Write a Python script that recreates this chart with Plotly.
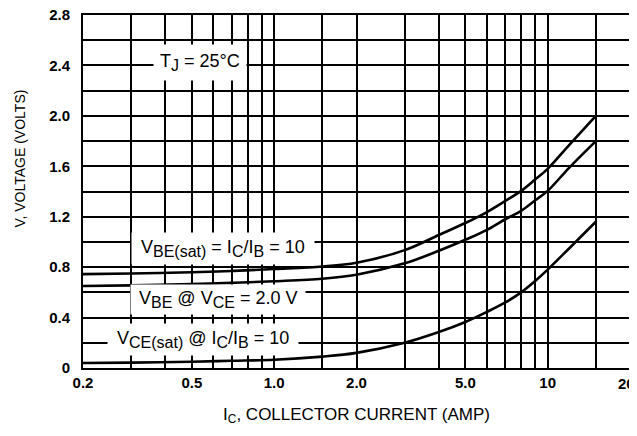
import math
import plotly.graph_objects as go

# ---- data ----
ic_amp = [0.2, 0.3, 0.5, 0.7, 1.0, 1.5, 2.0, 3.0, 4.0, 5.0, 6.0, 7.0, 8.0, 9.0, 10.0, 12.0, 15.0]
vbe_sat = [0.745, 0.75, 0.76, 0.77, 0.785, 0.805, 0.835, 0.935, 1.055, 1.15, 1.237, 1.325, 1.405, 1.495, 1.58, 1.77, 2.00]
vbe_on = [0.65, 0.655, 0.665, 0.675, 0.688, 0.708, 0.74, 0.83, 0.93, 1.017, 1.096, 1.18, 1.247, 1.33, 1.405, 1.59, 1.80]
vce_sat = [0.04, 0.043, 0.05, 0.057, 0.065, 0.09, 0.12, 0.20, 0.285, 0.365, 0.445, 0.52, 0.60, 0.69, 0.78, 0.95, 1.16]

NB = "\u00a0"
x_grid = [0.2, 0.3, 0.4, 0.5, 0.6, 0.7, 0.8, 0.9, 1.0, 1.5, 2.0, 3.0, 4.0, 5.0, 6.0, 7.0, 8.0, 9.0, 10.0, 15.0, 20.0]
x_labels = ["0.2", "", "", "0.5", "", "", "", "", "1.0", "", "2.0", "", "", "5.0", "", "", "", "", "10", "", ""]
x_end_label = "20"   # drawn just inside the right edge, as in the reference
y_grid = [0, 0.2, 0.4, 0.6, 0.8, 1.0, 1.2, 1.4, 1.6, 1.8, 2.0, 2.2, 2.4, 2.6, 2.8]
y_labels = ["0", "", "0.4", "", "0.8", "", "1.2", "", "1.6", "", "2.0", "", "2.4", "", "2.8"]

SUB = '<sub><span style="font-size:16px">{}</span></sub>'
label_texts = [
    "T" + SUB.format("J") + " = 25°C",
    NB + "V" + SUB.format("BE(sat)") + " = I" + SUB.format("C") + "/I" + SUB.format("B") + " = 10" + NB,
    NB + "V" + SUB.format("BE") + " @ V" + SUB.format("CE") + " = 2.0 V" + NB,
    NB + "V" + SUB.format("CE(sat)") + " @ I" + SUB.format("C") + "/I" + SUB.format("B") + " = 10" + NB,
]
label_x = [0.535, 0.65, 0.623, 0.549]
label_y = [2.42, 0.946, 0.54, 0.225]
label_pad = [6, 4, 3, 4]

x_title = "I<sub>C</sub>, COLLECTOR CURRENT (AMP)"
y_title = "V, VOLTAGE (VOLTS)"

FONT = "Liberation Sans, Arial"

fig = go.Figure()
for ys in (vbe_sat, vbe_on, vce_sat):
    fig.add_trace(go.Scatter(x=ic_amp, y=ys, mode="lines",
                             line=dict(color="black", width=2.6, shape="spline", smoothing=1.0),
                             showlegend=False, hoverinfo="skip"))

ann_font = dict(family=FONT, size=18, color="black")
for t, xv, yv, pad in zip(label_texts, label_x, label_y, label_pad):
    fig.add_annotation(x=math.log10(xv), y=yv, text=t,
                       showarrow=False, font=ann_font, bgcolor="white",
                       borderpad=pad, xanchor="center", yanchor="middle")

# y-axis title sits above the axis centre in the reference
fig.add_annotation(xref="paper", yref="paper", x=-0.116, y=0.592, text=y_title,
                   textangle=-90, showarrow=False, xanchor="center", yanchor="middle",
                   font=dict(family=FONT, size=14, color="black"))

tick_font = dict(family=FONT, size=15, color="black", weight="bold")
fig.add_annotation(xref="x", yref="paper", x=math.log10(x_grid[-1]), y=0, text=x_end_label,
                   showarrow=False, xanchor="center", yanchor="middle", xshift=-4, yshift=-15,
                   font=tick_font)

fig.update_xaxes(type="log", range=[-0.69897, 1.30103], tickvals=x_grid, ticktext=x_labels,
                 showgrid=True, gridcolor="black", gridwidth=1.6,
                 showline=True, linecolor="black", linewidth=2, mirror=True,
                 ticks="", tickfont=tick_font, zeroline=False, automargin=False,
                 ticklabeloverflow="allow",
                 title=dict(text=x_title,
                            font=dict(family=FONT, size=17, color="black"), standoff=18))
fig.update_yaxes(range=[0, 2.8], tickvals=y_grid, ticktext=y_labels,
                 showgrid=True, gridcolor="black", gridwidth=1.6,
                 showline=True, linecolor="black", linewidth=2, mirror=True,
                 ticks="", tickfont=tick_font, zeroline=False, ticklabelstandoff=8,
                 automargin=False, ticklabeloverflow="allow")

# page body has an 8px margin; keep the page inside the window (no scrollbar)
fig.update_layout(width=629, height=420, margin=dict(l=75, r=7, t=7, b=60),
                  plot_bgcolor="white", paper_bgcolor="white")
fig.write_html("out.html")
